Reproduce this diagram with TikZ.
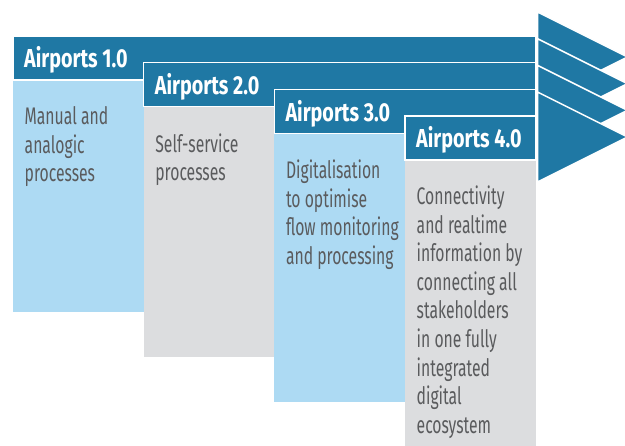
\documentclass[tikz,border=0pt]{standalone}
\usepackage{fontspec}
\newfontfamily\bodyfont[FakeStretch=0.655]{Fira Sans}
\newfontfamily\headfont[FakeStretch=0.76]{Fira Sans}
\definecolor{darkblue}{RGB}{31,120,164}
\definecolor{lightblue}{RGB}{173,218,243}
\definecolor{boxgray}{RGB}{220,221,223}
\definecolor{txtgray}{RGB}{90,91,93}
\begin{document}
\begin{tikzpicture}[x=1pt,y=-1pt,
  hdr/.style={fill=darkblue, draw=white, line width=1.5pt},
  headtri/.style={fill=darkblue, draw=white, line width=1.5pt, line join=miter},
  bodyL/.style={fill=lightblue},
  bodyG/.style={fill=boxgray},
  htext/.style={anchor=base west, inner sep=0pt, text=white, font=\headfont\bfseries\fontsize{26}{30}\selectfont},
  btext/.style={anchor=north west, inner sep=0pt, align=left, text=txtgray, font=\bodyfont\fontsize{24}{28.6}\selectfont}]
\useasboundingbox (0,0) rectangle (625,446);
\clip (0,0) rectangle (625,446);
% stage 1
\path[headtri] (537.5,12) -- (627.5,57) -- (537.5,102) -- cycle;
\path[hdr] (13,36) rectangle (536,80);
\path[bodyL] (13,80.75) rectangle (143.67,312);
\node[htext] (h1) at (24,68) {Airports 1.0};
\node[btext] (b1) at (24.5,106.5) {Manual and\\analogic\\processes};
% stage 2
\path[headtri] (537.5,38.67) -- (627.5,83.67) -- (537.5,128.67) -- cycle;
\path[hdr] (143.67,62.67) rectangle (536,106.67);
\path[bodyG] (143.67,107.42) rectangle (274.33,357);
\node[htext] (h2) at (154.67,94.67) {Airports 2.0};
\node[btext] (b2) at (155.17,133.17) {Self-service\\processes};
% stage 3
\path[headtri] (537.5,65.33) -- (627.5,110.33) -- (537.5,155.33) -- cycle;
\path[hdr] (274.33,89.33) rectangle (536,133.33);
\path[bodyL] (274.33,134.08) rectangle (405,402);
\node[htext] (h3) at (285.33,121.33) {Airports 3.0};
\node[btext] (b3) at (285.83,159.83) {Digitalisation\\to optimise\\flow monitoring\\and processing};
% stage 4
\path[headtri] (537.5,92) -- (627.5,137) -- (537.5,182) -- cycle;
\path[hdr] (405,116) rectangle (536,160);
\path[bodyG] (405,160.75) rectangle (536,450);
\node[htext] (h4) at (416,148) {Airports 4.0};
\node[btext] (b4) at (416.5,185.5) {Connectivity\\and realtime\\information by\\connecting all\\stakeholders\\in one fully\\integrated\\digital\\ecosystem};
\end{tikzpicture}
\end{document}
